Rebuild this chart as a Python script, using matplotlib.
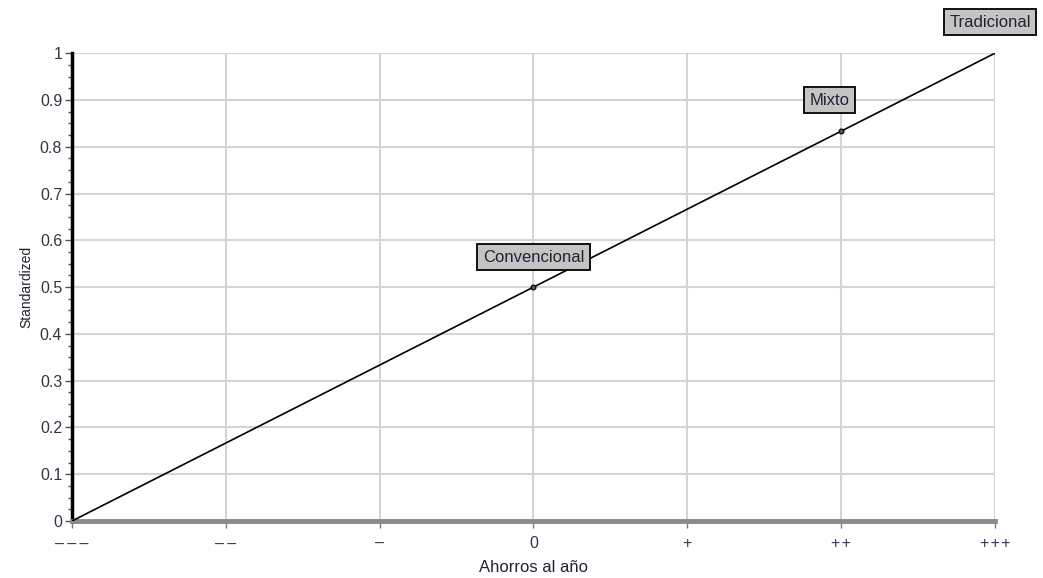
import matplotlib
matplotlib.use("Agg")
from matplotlib import pyplot as plt
from matplotlib.ticker import MultipleLocator

plt.rcParams['font.family'] = ['Liberation Sans', 'DejaVu Sans']

# datos
categorias = ["\u2013\u2009\u2013\u2009\u2013", "\u2013\u2009\u2013", "\u2013", "0",
              "+", "+\u200a+", "+\u200a+\u200a+"]
valores = [0, 1/6, 2/6, 0.5, 4/6, 5/6, 1]
etiquetas = ["Convencional", "Mixto", "Tradicional"]
idx_etiquetas = [3, 5, 6]

fig = plt.figure(figsize=(10.43, 5.78), dpi=100)
ax = fig.add_axes([0.069, 0.0986, 0.885, 0.8094])

x = list(range(len(categorias)))
ax.plot(x, valores, color='black', lw=1.2, zorder=3)
ax.plot([x[i] for i in idx_etiquetas[:2]], [valores[i] for i in idx_etiquetas[:2]],
        'o', ms=3.5, mfc='#555555', mec='black', mew=0.8, zorder=4)

# etiquetas en cajas grises
offsets = [(0, 30), (-12, 31), (-5, 31)]
for nombre, i, off in zip(etiquetas, idx_etiquetas, offsets):
    ax.annotate(nombre, (x[i], valores[i]), xytext=off, textcoords='offset pixels',
                ha='center', va='center', fontsize=12, color='#222233',
                bbox=dict(boxstyle='square,pad=0.32', fc='#c4c4c4', ec='#111111', lw=1.4),
                annotation_clip=False, zorder=5)

ax.set_xlim(0, 6)
ax.set_ylim(0, 1)
ax.set_xticks(x)
ax.set_xticklabels(categorias)
ax.yaxis.set_major_locator(MultipleLocator(0.1))
ax.yaxis.set_minor_locator(MultipleLocator(0.025))
ax.yaxis.set_major_formatter(plt.FuncFormatter(lambda v, p: "{:g}".format(round(v, 1))))

ax.grid(True, color='#d4d4d4', lw=1.5, zorder=0)
for s in ['top', 'right']:
    ax.spines[s].set_visible(False)
ax.spines['left'].set_color('black')
ax.spines['left'].set_linewidth(2.5)
ax.spines['bottom'].set_color('#8a8a8a')
ax.spines['bottom'].set_linewidth(3.5)

ax.tick_params(axis='y', which='major', length=5, width=1, color='#555555',
               labelsize=11.5, labelcolor='#333344', pad=2)
ax.tick_params(axis='y', which='minor', length=3, width=1, color='#555555')
ax.tick_params(axis='x', length=5, width=1, color='#777777', labelsize=11.5,
               labelcolor='#333355', pad=6)

ax.set_xlabel("Ahorros al año", fontsize=12, color='#222233', labelpad=6)
ax.set_ylabel("Standardized", fontsize=10, color='#222233', labelpad=5)

fig.savefig("out.png", dpi=100)
